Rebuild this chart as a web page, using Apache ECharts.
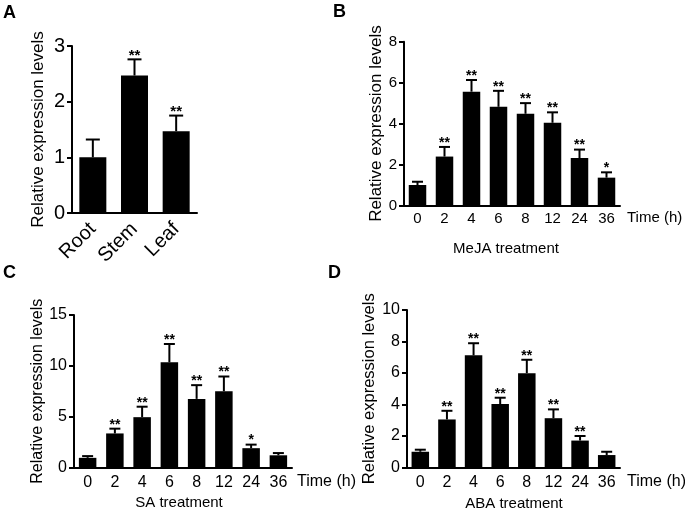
<!DOCTYPE html>
<html>
<head>
<meta charset="utf-8">
<style>
  html, body { margin: 0; padding: 0; background: #fff; }
  #chart { width: 685px; height: 517px; }
</style>
<script src="https://cdn.jsdelivr.net/npm/echarts@6/dist/echarts.min.js"></script>
</head>
<body>
<div id="chart"></div>
<script>
// Panel A: tissues
const tissues = ["Root", "Stem", "Leaf"];
const tissueMean = [1.0, 2.47, 1.47];
const tissueErr = [1.32, 2.76, 1.75];
const tissueSig = ["", "**", "**"];

// Panels B-D: time course (h)
const times = ["0", "2", "4", "6", "8", "12", "24", "36"];

const mejaMean = [1.0, 2.39, 5.56, 4.82, 4.48, 4.04, 2.32, 1.36];
const mejaErr = [1.16, 2.86, 6.13, 5.6, 5.0, 4.55, 2.73, 1.62];
const mejaSig = ["", "**", "**", "**", "**", "**", "**", "*"];

const saMean = [0.95, 3.35, 4.95, 10.35, 6.75, 7.5, 1.9, 1.2];
const saErr = [1.12, 3.82, 5.98, 12.15, 8.1, 8.95, 2.25, 1.42];
const saSig = ["", "**", "**", "**", "**", "**", "*", ""];

const abaMean = [1.0, 3.05, 7.12, 4.03, 5.99, 3.13, 1.71, 0.79];
const abaErr = [1.13, 3.6, 7.89, 4.43, 6.84, 3.69, 2.0, 1.0];
const abaSig = ["", "**", "**", "**", "**", "**", "**", ""];

const FONT = "'Liberation Sans', Arial, sans-serif";
const BLACK = "#000";
const YNAME = "Relative expression levels";

const xAxisFor = (gi, data, fontSize, margin, rotate) => ({
    type: "category",
    gridIndex: gi,
    data,
    axisLine: { lineStyle: { color: BLACK, width: 2 } },
    axisTick: { alignWithLabel: true, length: 5, lineStyle: { color: BLACK, width: 2 } },
    axisLabel: { color: BLACK, fontFamily: FONT, fontSize, margin, rotate, interval: 0 },
    splitLine: { show: false }
});

const yAxisFor = (gi, max, interval, fontSize, nameGap, nameSize) => ({
    type: "value",
    gridIndex: gi,
    min: 0,
    max,
    interval,
    name: YNAME,
    nameLocation: "middle",
    nameGap,
    nameTextStyle: { color: BLACK, fontFamily: FONT, fontSize: nameSize },
    axisLine: { show: true, lineStyle: { color: BLACK, width: 2 } },
    axisTick: { show: true, length: 5, lineStyle: { color: BLACK, width: 2 } },
    axisLabel: { color: BLACK, fontFamily: FONT, fontSize, margin: 7 },
    splitLine: { show: false }
});

const barSeries = (gi, values, barWidth) => ({
    type: "bar",
    xAxisIndex: gi,
    yAxisIndex: gi,
    data: values,
    barWidth,
    itemStyle: { color: BLACK },
    silent: true
});

// error bar (upper only) + significance stars
const errorSeries = (gi, mean, err, sig, capW, starSize) => ({
    type: "custom",
    xAxisIndex: gi,
    yAxisIndex: gi,
    z: 5,
    silent: true,
    data: mean.map((m, i) => [i, m, err[i]]),
    encode: { x: 0, y: [1, 2] },
    renderItem: (params, api) => {
        const i = api.value(0);
        const low = api.coord([i, api.value(1)]);
        const high = api.coord([i, api.value(2)]);
        const st = { stroke: BLACK, lineWidth: 2 };
        const children = [
            { type: "line", shape: { x1: low[0], y1: low[1], x2: high[0], y2: high[1] }, style: st },
            { type: "line", shape: { x1: high[0] - capW / 2, y1: high[1], x2: high[0] + capW / 2, y2: high[1] }, style: st }
        ];
        const s = sig[params.dataIndex];
        if (s) {
            children.push({
                type: "text",
                x: high[0],
                y: high[1] - 4,
                style: {
                    text: s, fill: BLACK, fontFamily: FONT, fontSize: starSize, fontWeight: "bold",
                    align: "center", verticalAlign: "middle"
                }
            });
        }
        return { type: "group", children };
    }
});

const label = (text, x, y, size, align, bold) => ({
    type: "text",
    x, y,
    silent: true,
    style: {
        text, fill: BLACK, fontFamily: FONT, fontSize: size, fontWeight: bold ? "bold" : "normal",
        align, verticalAlign: bold ? "top" : "middle",
        textAlign: align, textVerticalAlign: bold ? "top" : "middle"
    }
});

const chart = echarts.init(document.getElementById("chart"), null, { renderer: "canvas" });
chart.setOption({
    backgroundColor: "#fff",
    animation: false,
    grid: [
        { left: 72, top: 46, width: 125, height: 167 },
        { left: 404, top: 41.7, width: 216, height: 163.8 },
        { left: 74, top: 315, width: 218, height: 152.5 },
        { left: 407, top: 310, width: 213, height: 157.5 }
    ],
    xAxis: [
        xAxisFor(0, tissues, 20, 13, 45),
        xAxisFor(1, times, 15, 6, 0),
        xAxisFor(2, times, 16, 7, 0),
        xAxisFor(3, times, 16, 7, 0)
    ],
    yAxis: [
        yAxisFor(0, 3, 1, 20, 25, 17),
        yAxisFor(1, 8, 2, 15, 18, 17),
        yAxisFor(2, 15, 5, 16, 24, 16),
        yAxisFor(3, 10, 2, 16, 26, 16.5)
    ],
    series: [
        barSeries(0, tissueMean, 27),
        errorSeries(0, tissueMean, tissueErr, tissueSig, 14, 15),
        barSeries(1, mejaMean, 17.5),
        errorSeries(1, mejaMean, mejaErr, mejaSig, 11, 14),
        barSeries(2, saMean, 17.5),
        errorSeries(2, saMean, saErr, saSig, 11, 14),
        barSeries(3, abaMean, 17.5),
        errorSeries(3, abaMean, abaErr, abaSig, 11, 14)
    ],
    graphic: [
        label("A", 3, 4, 18, "left", true),
        label("B", 333, 3, 18, "left", true),
        label("C", 3, 264, 18, "left", true),
        label("D", 328, 264, 18, "left", true),
        label("Time (h)", 627, 218, 15, "left"),
        label("Time (h)", 297, 482, 16, "left"),
        label("Time (h)", 627, 482, 16, "left"),
        label("MeJA treatment", 506, 249, 15, "center"),
        label("SA treatment", 179, 503, 15, "center"),
        label("ABA treatment", 514, 504, 15, "center")
    ]
});
</script>
</body>
</html>
